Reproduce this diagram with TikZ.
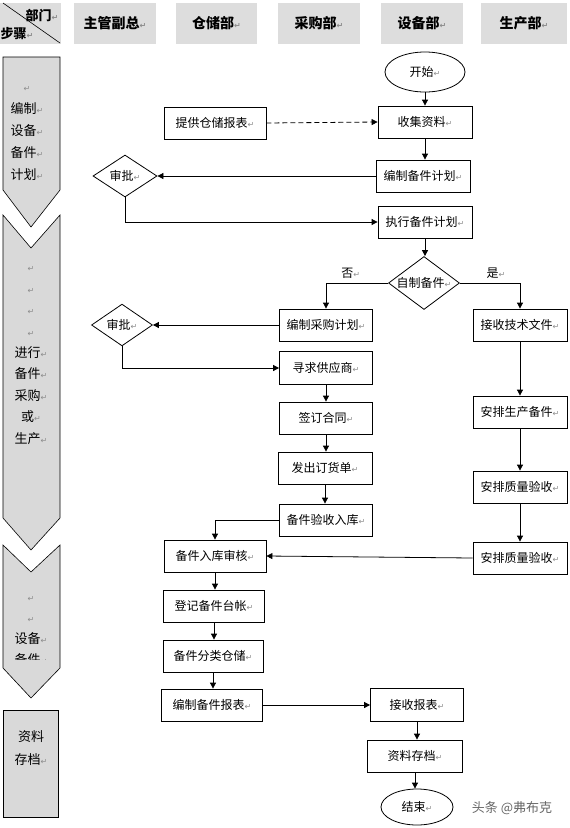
\documentclass[tikz,border=0pt]{standalone}
\usepackage{fontspec}
\setmainfont{Noto Sans CJK SC}
\newfontfamily\retfont{DejaVu Sans}
\usetikzlibrary{arrows.meta,shapes.geometric}
\newcommand{\ret}{{\retfont\fontsize{8}{8}\selectfont\color{black!45}↵}}
\definecolor{headgray}{HTML}{DDDDDD}
\definecolor{lanegray}{HTML}{D9D9D9}

\begin{document}
\begin{tikzpicture}[x=1pt,y=-1pt,
        every node/.style={font=\fontsize{12}{14}\selectfont},
        head/.style={fill=headgray,minimum height=41,inner sep=0,font=\bfseries\fontsize{14}{16}\selectfont},
        box/.style={draw,line width=0.8pt,minimum width=94,minimum height=32,inner sep=0},
        wbox/.style={box,minimum width=102},
        deci/.style={draw,diamond,line width=0.8pt,inner sep=0},
        term/.style={draw,ellipse,line width=0.8pt,inner sep=0},
        lanetext/.style={align=center,font=\fontsize{13}{21.4}\selectfont},
        arr/.style={-{Triangle[length=6pt,width=6pt]},line width=0.8pt}]

        \useasboundingbox (0,0) rectangle (570,828);

        % header row
        \node[head,minimum width=61] (corner) at (30.5,23.5) {};
        \draw[line width=0.6pt] (3,3) -- (60,43);
        \node[font=\bfseries\fontsize{13}{15}\selectfont] (dept) at (42,15) {部门\ret};
        \node[font=\bfseries\fontsize{13}{15}\selectfont] (steps) at (17,34) {步骤\ret};
        \node[head,minimum width=82] (manager) at (115,23.5) {主管副总\ret};
        \node[head,minimum width=81] (store) at (216.5,23.5) {仓储部\ret};
        \node[head,minimum width=82] (purchase) at (319,23.5) {采购部\ret};
        \node[head,minimum width=82] (equip) at (422,23.5) {设备部\ret};
        \node[head,minimum width=86] (prod) at (524,23.5) {生产部\ret};

        % step column
        \draw[fill=lanegray,line width=0.6pt] (3,57) -- (60,57) -- (60,190) -- (31,227) -- (3,190) -- cycle;
        \draw[fill=lanegray,line width=0.6pt] (3,215) -- (31,248) -- (60,215) -- (60,518) -- (31,550) -- (3,518) -- cycle;
        \draw[fill=lanegray,line width=0.6pt] (3,545) -- (31,572) -- (60,545) -- (60,668) -- (31,698) -- (3,668) -- cycle;
        \draw[fill=lanegray,line width=0.6pt] (3,710) rectangle (58,817);
        \node[lanetext,font=\fontsize{13}{22}\selectfont] (lane1) at (27,133.5) {\ret\\编制\ret\\设备\ret\\备件\ret\\计划\ret};
        \node[lanetext] (lane2) at (31,355.5) {\ret\\\ret\\\ret\\\ret\\进行\ret\\备件\ret\\采购\ret\\或\ret\\生产\ret};
        \begin{scope}
            \clip (0,540) rectangle (70,659);
            \node[lanetext,font=\fontsize{13}{21.3}\selectfont] (lane3) at (31,631) {\ret\\\ret\\设备\ret\\备件\ret};
        \end{scope}
        \node[lanetext,font=\fontsize{13}{23}\selectfont] (lane4) at (31,748.5) {资料\\存档\ret};

        % flow
        \node[term,minimum width=80,minimum height=40] (start) at (425,72) {开始\ret};
        \node[box] (collect) at (425,122) {收集资料\ret};
        \node[wbox] (supply) at (215,123) {提供仓储报表\ret};
        \node[box] (plan) at (423,176) {编制备件计划\ret};
        \node[deci,minimum width=64,minimum height=42] (appr1) at (125,176) {审批\ret};
        \node[box] (exec) at (425,222) {执行备件计划\ret};
        \node[deci,aspect=1.34,minimum width=71,minimum height=53] (self) at (424,283) {自制备件\ret};
        \node[box,minimum width=93] (purchplan) at (326,325) {编制采购计划\ret};
        \node[box] (tech) at (520,325) {接收技术文件\ret};
        \node[deci,minimum width=61,minimum height=40] (appr2) at (122,325) {审批\ret};
        \node[box,minimum width=93,minimum height=33] (supplier) at (326,368) {寻求供应商\ret};
        \node[box,minimum width=93] (contract) at (326,418) {签订合同\ret};
        \node[box] (prodarr) at (520,412) {安排生产备件\ret};
        \node[box] (order) at (325,468) {发出订货单\ret};
        \node[box] (qc1) at (520,487) {安排质量验收\ret};
        \node[box,minimum width=93] (inspect) at (326,520) {备件验收入库\ret};
        \node[box] (qc2) at (520,558) {安排质量验收\ret};
        \node[wbox] (review) at (215,556) {备件入库审核\ret};
        \node[wbox,minimum width=101] (ledger) at (214,606) {登记备件台帐\ret};
        \node[wbox,minimum width=100] (classify) at (213,656) {备件分类仓储\ret};
        \node[wbox,minimum width=101] (report) at (212,705) {编制备件报表\ret};
        \node[box,minimum width=93,minimum height=33] (receive) at (417,705) {接收报表\ret};
        \node[box,minimum width=95] (archive) at (415,756) {资料存档\ret};
        \node[term,minimum width=72,minimum height=36] (finish) at (417,807) {结束\ret};
        \node[text=black!60,font=\fontsize{13}{15}\selectfont] (mark) at (512,808) {头条 @弗布克};

        % connectors
        \draw[arr] (start.south) -- (start.south |- collect.north);
        \draw[arr,dash pattern=on 5pt off 3pt] (supply.east) -- (collect.west);
        \draw[arr] (collect.south) -- (collect.south |- plan.north);
        \draw[arr] (plan.west) -- (appr1.east);
        \draw[arr] (appr1.south) |- (exec.west);
        \draw[arr] (exec.south) -- (exec.south |- self.north);
        \draw[arr] (self.west) -| node[pos=0.3,above=1pt] (no) {否\ret} (purchplan.north);
        \draw[arr] (self.east) -| node[pos=0.3,above=1pt] (yes) {是\ret} (tech.north);
        \draw[arr] (purchplan.west) -- (appr2.east);
        \draw[arr] (appr2.south) |- (supplier.west);
        \draw[arr] (supplier.south) -- (supplier.south |- contract.north);
        \draw[arr] (contract.south) -- (contract.south |- order.north);
        \draw[arr] (order.south) -- (order.south |- inspect.north);
        \draw[arr] (inspect.west) -| (review.north);
        \draw[arr] (tech.south) -- (tech.south |- prodarr.north);
        \draw[arr] (prodarr.south) -- (prodarr.south |- qc1.north);
        \draw[arr] (qc1.south) -- (qc1.south |- qc2.north);
        \draw[arr] (qc2.west) -- (review.east);
        \draw[arr] (review.south) -- (review.south |- ledger.north);
        \draw[arr] (ledger.south) -- (ledger.south |- classify.north);
        \draw[arr] (classify.south) -- (classify.south |- report.north);
        \draw[arr] (report.east) -- (receive.west);
        \draw[arr] (receive.south) -- (receive.south |- archive.north);
        \draw[arr] (archive.south) -- (archive.south |- finish.north);

    \end{tikzpicture}
\end{document}
